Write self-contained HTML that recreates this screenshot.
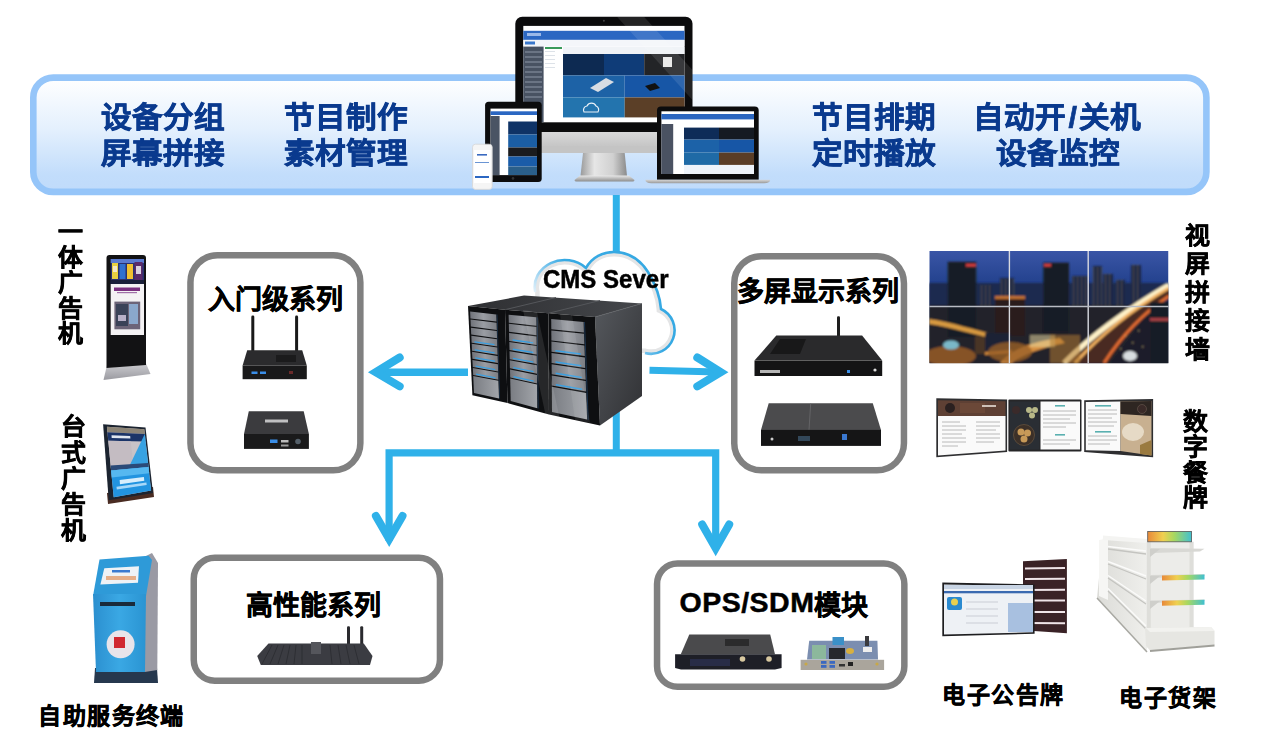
<!DOCTYPE html>
<html lang="zh-CN">
<head>
<meta charset="utf-8">
<style>
html,body{margin:0;padding:0;background:#fff;}
body{width:1268px;height:737px;position:relative;overflow:hidden;font-family:"Liberation Sans",sans-serif;}
.a{position:absolute;}
.bt{position:absolute;font-weight:bold;color:#0a3a8e;font-size:30.6px;line-height:38.3px;white-space:nowrap;-webkit-text-stroke:0.7px #0a3a8e;transform:scaleY(0.95);transform-origin:0 0;}
.bx{position:absolute;font-weight:bold;color:#000;font-size:27px;line-height:30px;white-space:nowrap;-webkit-text-stroke:0.5px #000;}
.vt{position:absolute;font-weight:bold;color:#000;font-size:23.5px;width:24px;text-align:center;white-space:normal;-webkit-text-stroke:0.5px #000;transform:scaleX(1.06);transform-origin:0 0;}
.lb{position:absolute;font-weight:bold;color:#000;font-size:23px;line-height:26px;white-space:nowrap;-webkit-text-stroke:0.5px #000;}
</style>
</head>
<body>
<!-- banner -->
<svg class="a" style="left:0;top:0" width="1268" height="737" viewBox="0 0 1268 737">
 <defs><linearGradient id="bang" x1="0" y1="0" x2="0" y2="1"><stop offset="0" stop-color="#ffffff"/><stop offset="0.45" stop-color="#e4f0fd"/><stop offset="0.85" stop-color="#c2ddfb"/><stop offset="1" stop-color="#c0dbfb"/></linearGradient></defs>
 <rect x="33.3" y="77.6" width="1173.1" height="114.3" rx="20" fill="url(#bang)" stroke="#95c5f9" stroke-width="6.6"/>
</svg>
<div class="bt" style="left:101px;top:99px;">设备分组<br>屏幕拼接</div>
<div class="bt" style="left:284px;top:99px;">节目制作<br>素材管理</div>
<div class="bt" style="left:812px;top:99px;">节目排期<br>定时播放</div>
<div class="bt" style="left:972.5px;top:99px;">自动开<span style="margin:0 2px 0 3px">/</span>关机</div>
<div class="bt" style="left:996px;top:135px;">设备监控</div>

<!-- connectors -->
<svg class="a" style="left:0;top:0" width="1268" height="737" viewBox="0 0 1268 737">
 <g stroke="#2fb1e9" fill="none">
  <line x1="616.3" y1="195" x2="616.3" y2="453" stroke-width="7"/>
  <polyline points="389.1,541 389.1,452.8 715.7,452.8 715.7,549" stroke-width="7.2" stroke-linejoin="miter"/>
  <polyline points="375.9,516 389.2,539 402.5,516" stroke-width="8" stroke-linecap="round" stroke-linejoin="miter" stroke-miterlimit="10"/>
  <polyline points="702.2,524.5 715.7,548.2 729.2,524.5" stroke-width="8" stroke-linecap="round" stroke-linejoin="miter" stroke-miterlimit="10"/>
  <line x1="468" y1="372.2" x2="378" y2="372.2" stroke-width="7.6"/>
  <polyline points="399.7,357.5 375.7,372.2 399.7,386.4" stroke-width="8" stroke-linecap="round" stroke-linejoin="miter" stroke-miterlimit="10"/>
  <line x1="649.5" y1="370.3" x2="718" y2="372.1" stroke-width="7"/>
  <polyline points="697.3,357.5 720.8,372.2 697.3,386.4" stroke-width="8" stroke-linecap="round" stroke-linejoin="miter" stroke-miterlimit="10"/>
 </g>
</svg>


<!-- monitor group -->
<svg class="a" style="left:0;top:0" width="1268" height="737" viewBox="0 0 1268 737">
 <defs>
  <linearGradient id="chin" x1="0" y1="0" x2="0" y2="1"><stop offset="0" stop-color="#d8d8d8"/><stop offset="1" stop-color="#bdbdbd"/></linearGradient>
  <linearGradient id="neck" x1="0" y1="0" x2="1" y2="0"><stop offset="0" stop-color="#9a9a9a"/><stop offset="0.3" stop-color="#e6e6e6"/><stop offset="0.7" stop-color="#d0d0d0"/><stop offset="1" stop-color="#8a8a8a"/></linearGradient>
  <linearGradient id="base" x1="0" y1="0" x2="0" y2="1"><stop offset="0" stop-color="#e8e8e8"/><stop offset="1" stop-color="#8c8c8c"/></linearGradient>
  <linearGradient id="lbase" x1="0" y1="0" x2="0" y2="1"><stop offset="0" stop-color="#d6d6d6"/><stop offset="1" stop-color="#9a9a9a"/></linearGradient>
 </defs>
 <!-- iMac -->
 <rect x="515.3" y="16.8" width="177.2" height="136" rx="7" fill="#0b0b0c"/>
 <rect x="515.3" y="132" width="177.2" height="21" fill="url(#chin)"/>
 <path d="M515.3 146 h177.2 v1 a6 6 0 0 1 -6 6 h-165.2 a6 6 0 0 1 -6 -6z" fill="#c4c4c4"/>
 <polygon points="583,153 624.7,153 627,176 580.5,176" fill="url(#neck)"/>
 <path d="M580 175.5 h49 l5.5 4.5 q0 1.5 -2 1.5 h-56 q-2 0 -2 -1.5z" fill="url(#base)"/>
 <circle cx="603.9" cy="20.8" r="1" fill="#444"/>
 <!-- screen -->
 <rect x="523.3" y="25.9" width="161.2" height="96.4" fill="#ffffff"/>
 <rect x="523.3" y="30.8" width="161.2" height="9" fill="#2b67c2"/>
 <rect x="523.3" y="40" width="161.2" height="6.6" fill="#f4f6fa"/>
 <rect x="525" y="41.5" width="10" height="3" fill="#3a78cc"/>
 <rect x="523.3" y="46.6" width="20.3" height="75.7" fill="#485262"/>
 <rect x="563" y="47" width="121.5" height="7" fill="#f0f3f7"/>
 <rect x="563" y="54" width="41" height="21.4" fill="#0d2a52"/>
 <rect x="604" y="54" width="40.2" height="21.4" fill="#0f3c78"/>
 <rect x="644.2" y="54" width="40.3" height="21.4" fill="#232427"/>
 <rect x="663" y="57" width="9" height="10" fill="#e8e8e8"/>
 <rect x="563" y="75.4" width="61.7" height="22" fill="#1d62a6"/>
 <rect x="624.7" y="75.4" width="59.8" height="22" fill="#1756a6"/>
 <rect x="563" y="97.4" width="61.7" height="20" fill="#2374ae"/>
 <rect x="624.7" y="97.4" width="59.8" height="20" fill="#5b3f27"/>
 <polygon points="590,88 606,78 614,82 598,92" fill="#d8dde3"/>
 <g fill="#6a7484"><rect x="525" y="51" width="17" height="2"/><rect x="525" y="56" width="17" height="2"/><rect x="525" y="61" width="17" height="2"/><rect x="525" y="66" width="17" height="2"/><rect x="525" y="71" width="17" height="2"/><rect x="525" y="76" width="17" height="2"/><rect x="525" y="81" width="17" height="2"/><rect x="525" y="86" width="17" height="2"/><rect x="525" y="91" width="17" height="2"/><rect x="525" y="96" width="17" height="2"/></g>
 <rect x="545" y="47" width="17" height="2" fill="#3a9a5a"/>
 <g fill="#dde2e8"><rect x="545" y="51" width="10" height="1"/><rect x="545" y="55" width="10" height="1"/><rect x="545" y="59" width="10" height="1"/><rect x="545" y="63" width="10" height="1"/><rect x="545" y="67" width="10" height="1"/></g>
 <path d="M584 112 a4 4 0 0 1 3 -6 a5 5 0 0 1 9 0 a4 4 0 0 1 2 6 z" fill="none" stroke="#e8f0f8" stroke-width="1.2"/>
 <rect x="527" y="33" width="14" height="3" fill="#9ab8e8"/>
 <polygon points="645,86 655,83 660,88 650,91" fill="#111"/>
 <polygon points="617,16.8 644,16.8 692.5,70 692.5,100" fill="#ffffff" opacity="0.1"/>
 <!-- tablet -->
 <rect x="485.1" y="101.8" width="56.6" height="80.1" rx="3.5" fill="#0c0c0d"/>
 <rect x="490.5" y="108.6" width="46.5" height="66.5" fill="#fff"/>
 <rect x="490.5" y="111.3" width="46.5" height="3.7" fill="#2b67c2"/>
 <rect x="490.5" y="116" width="9.1" height="59.1" fill="#4a5464"/>
 <rect x="508.2" y="121.5" width="28.8" height="13" fill="#0f3366"/>
 <rect x="508.2" y="134.5" width="28.8" height="13" fill="#1b5ea4"/>
 <rect x="508.2" y="147.5" width="28.8" height="9" fill="#1a1b1e"/>
 <rect x="508.2" y="156.5" width="28.8" height="10" fill="#1a5ca8"/>
 <rect x="508.2" y="166.5" width="28.8" height="8.5" fill="#2a5f8a"/>
 <circle cx="513" cy="178.4" r="1.3" fill="#333"/>
 <!-- phone -->
 <rect x="472.5" y="144.2" width="19.7" height="45.2" rx="3" fill="#f5f5f5" stroke="#d6d6d6" stroke-width="0.8"/>
 <rect x="474" y="150" width="16.7" height="33" fill="#ffffff"/>
 <rect x="477" y="154" width="10" height="1.6" fill="#3a6ac0"/>
 <rect x="475" y="162" width="14" height="0.9" fill="#5a8ad0"/>
 <rect x="475" y="176" width="14" height="2" fill="#2b67c2"/>
 <!-- laptop -->
 <path d="M661 106.5 h93.7 a4 4 0 0 1 4 4 v69.3 h-101.7 v-69.3 a4 4 0 0 1 4 -4z" fill="#0c0c0d"/>
 <rect x="661.4" y="111.3" width="92.6" height="62.7" fill="#fff"/>
 <rect x="661.4" y="114" width="92.6" height="5.4" fill="#2b66c0"/>
 <rect x="661.4" y="124" width="11.8" height="50" fill="#4a5262"/>
 <rect x="684" y="127.6" width="35" height="12" fill="#0e2c58"/>
 <rect x="719" y="127.6" width="35" height="12" fill="#151a22"/>
 <rect x="684" y="139.6" width="35" height="13" fill="#1c62a8"/>
 <rect x="719" y="139.6" width="35" height="13" fill="#1756a6"/>
 <rect x="684" y="152.6" width="35" height="12.3" fill="#1f6aa6"/>
 <rect x="719" y="152.6" width="35" height="12.3" fill="#5a3d26"/>
 <rect x="684" y="165" width="70" height="9" fill="#eef3fa"/>
 <path d="M645.4 179.8 h124.8 q0 3.4 -6 3.4 h-112.8 q-6 0 -6 -3.4z" fill="url(#lbase)"/>
</svg>


<!-- cloud + server -->
<svg class="a" style="left:0;top:0" width="1268" height="737" viewBox="0 0 1268 737">
 <defs>
  <linearGradient id="cstroke" gradientUnits="userSpaceOnUse" x1="536" y1="295" x2="566" y2="262"><stop offset="0" stop-color="#e6f2fa"/><stop offset="0.6" stop-color="#7cc6ee"/><stop offset="1" stop-color="#36a9e3"/></linearGradient>
  <clipPath id="cc"><path d="M535.2 292 A30 27 0 0 1 586 268 C 592 257, 603 252, 614 252 C 630 252, 641 261, 648 272 C 654 282, 660 295, 661 309 A23.5 23.5 0 0 1 645 353 L535 353 Z"/></clipPath>
  <linearGradient id="stop" x1="0" y1="0" x2="1" y2="0"><stop offset="0" stop-color="#2e2f32"/><stop offset="1" stop-color="#45474b"/></linearGradient>
  <linearGradient id="sside" x1="0" y1="0" x2="1" y2="1"><stop offset="0" stop-color="#55585d"/><stop offset="1" stop-color="#303134"/></linearGradient>
  <linearGradient id="spanel" x1="0" y1="0" x2="1" y2="0"><stop offset="0" stop-color="#70737a"/><stop offset="0.5" stop-color="#9a9da3"/><stop offset="1" stop-color="#7b7e84"/></linearGradient>
  <linearGradient id="spanel2" x1="0" y1="0" x2="1" y2="0"><stop offset="0" stop-color="#7a7d83"/><stop offset="1" stop-color="#a2a5aa"/></linearGradient>
 </defs>
 <path d="M535.2 292 A30 27 0 0 1 586 268 C 592 257, 603 252, 614 252 C 630 252, 641 261, 648 272 C 654 282, 660 295, 661 309 A23.5 23.5 0 0 1 645 353 L535 353 Z" fill="#fff"/>
 <path d="M535.2 292 A30 27 0 0 1 586 268 C 592 257, 603 252, 614 252 C 630 252, 641 261, 648 272 C 654 282, 660 295, 661 309 A23.5 23.5 0 0 1 645 353 L535 353 Z" fill="none" stroke="#e4e5e6" stroke-width="9" clip-path="url(#cc)"/>
 <path d="M535.2 292 A30 27 0 0 1 586 268 C 592 257, 603 252, 614 252 C 630 252, 641 261, 648 272 C 654 282, 660 295, 661 309 A23.5 23.5 0 0 1 645 353" fill="none" stroke="url(#cstroke)" stroke-width="2.6"/>
<polygon points="468.0,306.0 524.0,295.5 642.0,303.5 595.0,317.0 548.4,313.3 505.0,309.7" fill="url(#stop)"/>
<polygon points="595.0,317.0 642.0,303.5 642.0,396.0 600.0,425.5" fill="url(#sside)"/>
<line x1="505" y1="309.7" x2="556" y2="297.5" stroke="#55575b" stroke-width="1"/>
<line x1="548.4" y1="313.3" x2="600" y2="300.5" stroke="#55575b" stroke-width="1"/>
<line x1="595" y1="317" x2="642" y2="303.5" stroke="#606266" stroke-width="0.8"/>
<polygon points="468.0,306.0 505.0,309.7 507.5,403.0 472.4,395.3" fill="#0e0f11"/>
<polygon points="470.1,311.6 496.3,314.4 496.5,321.6 470.4,318.5" fill="url(#spanel)"/>
<polygon points="470.5,319.6 496.6,322.7 496.8,329.9 470.8,326.6" fill="url(#spanel)"/>
<polygon points="470.9,327.7 496.8,331.0 497.1,338.2 471.2,334.6" fill="url(#spanel)"/>
<polygon points="471.3,335.7 497.1,339.3 497.3,346.5 471.6,342.7" fill="url(#spanel)"/>
<polygon points="474.4,341.2 494.4,344.0 494.4,345.3 474.5,342.4" fill="#3a9fe0"/>
<polygon points="471.7,343.8 497.4,347.6 497.6,354.8 472.0,350.8" fill="url(#spanel)"/>
<polygon points="474.8,349.2 494.6,352.3 494.7,353.6 474.8,350.5" fill="#3a9fe0"/>
<polygon points="472.0,351.8 497.6,355.9 497.9,363.1 472.4,358.8" fill="url(#spanel)"/>
<polygon points="475.2,357.3 494.9,360.6 495.0,361.9 475.2,358.6" fill="#3a9fe0"/>
<polygon points="472.4,359.9 497.9,364.2 498.1,371.4 472.8,366.9" fill="url(#spanel)"/>
<polygon points="475.5,365.4 495.2,368.9 495.2,370.2 475.6,366.7" fill="#3a9fe0"/>
<polygon points="472.8,367.9 498.2,372.5 498.4,379.7 473.2,374.9" fill="url(#spanel)"/>
<polygon points="475.9,373.5 495.5,377.2 495.5,378.5 476.0,374.7" fill="#3a9fe0"/>
<polygon points="473.2,376.0 498.4,380.8 499.0,398.4 474.0,393.0" fill="url(#spanel2)"/>
<polygon points="496.7,314.4 497.4,314.5 500.0,398.6 499.3,398.5" fill="#1d3550"/>
<polygon points="505.0,309.7 548.4,313.3 549.0,414.5 507.5,403.0" fill="#0e0f11"/>
<polygon points="508.6,314.7 536.3,317.2 536.4,325.7 508.8,322.7" fill="url(#spanel)"/>
<polygon points="508.8,323.8 536.4,326.9 536.5,335.3 509.0,331.8" fill="url(#spanel)"/>
<polygon points="509.0,332.9 536.5,336.5 536.6,344.9 509.2,340.9" fill="url(#spanel)"/>
<polygon points="512.6,339.3 533.2,342.2 533.2,343.6 512.6,340.7" fill="#3a9fe0"/>
<polygon points="509.3,342.1 536.6,346.1 536.7,354.5 509.5,350.1" fill="url(#spanel)"/>
<polygon points="512.8,348.5 533.3,351.8 533.3,353.2 512.9,349.9" fill="#3a9fe0"/>
<polygon points="509.5,351.2 536.7,355.7 536.8,364.1 509.7,359.2" fill="url(#spanel)"/>
<polygon points="513.0,357.7 533.4,361.4 533.4,362.7 513.1,359.0" fill="#3a9fe0"/>
<polygon points="509.7,360.3 536.9,365.3 537.0,373.7 509.9,368.3" fill="url(#spanel)"/>
<polygon points="513.3,366.9 533.5,370.9 533.6,372.3 513.3,368.2" fill="#3a9fe0"/>
<polygon points="510.0,369.4 537.0,374.9 537.1,383.4 510.2,377.4" fill="url(#spanel)"/>
<polygon points="513.5,376.1 533.7,380.5 533.7,381.8 513.5,377.4" fill="#3a9fe0"/>
<polygon points="510.2,378.6 537.1,384.6 537.3,408.3 510.7,401.1" fill="url(#spanel2)"/>
<polygon points="536.7,317.3 537.6,317.4 538.6,408.6 537.8,408.4" fill="#1d3550"/>
<polygon points="548.4,313.3 595.0,317.0 600.0,425.5 549.0,414.5" fill="#0e0f11"/>
<polygon points="551.2,319.1 583.6,321.9 583.9,332.5 551.3,329.2" fill="url(#spanel)"/>
<polygon points="551.3,330.4 584.0,333.8 584.4,344.3 551.4,340.4" fill="url(#spanel)"/>
<polygon points="551.4,341.6 584.4,345.6 584.8,356.1 551.5,351.7" fill="url(#spanel)"/>
<polygon points="555.4,350.0 580.9,353.3 580.9,354.8 555.4,351.4" fill="#3a9fe0"/>
<polygon points="551.5,352.9 584.9,357.4 585.2,368.0 551.6,363.0" fill="url(#spanel)"/>
<polygon points="555.5,361.3 581.3,365.0 581.3,366.5 555.5,362.7" fill="#3a9fe0"/>
<polygon points="551.6,364.2 585.3,369.2 585.7,379.8 551.7,374.2" fill="url(#spanel)"/>
<polygon points="555.6,372.6 581.7,376.8 581.7,378.3 555.6,374.0" fill="#3a9fe0"/>
<polygon points="551.7,375.4 585.7,381.1 586.1,391.6 551.8,385.5" fill="url(#spanel)"/>
<polygon points="555.8,383.9 582.1,388.6 582.1,390.0 555.8,385.4" fill="#3a9fe0"/>
<polygon points="551.8,386.7 586.2,392.9 587.1,419.5 552.0,412.1" fill="url(#spanel2)"/>
<polygon points="584.0,322.0 585.0,322.1 588.7,419.9 587.6,419.7" fill="#1d3550"/>
<polygon points="523,310 537,312 560,420 546,417" fill="#ffffff" opacity="0.10"/>
<polygon points="560,314 572,315 590,423 575,420" fill="#ffffff" opacity="0.08"/>

</svg>

<!-- boxes -->
<svg class="a" style="left:0;top:0" width="1268" height="737" viewBox="0 0 1268 737">
 <g fill="#fff" stroke="#808080" stroke-width="6.5">
  <rect x="190.45" y="255.25" width="169.9" height="215.1" rx="27"/>
  <rect x="734.25" y="256.15" width="169.7" height="214.2" rx="27"/>
  <rect x="193.75" y="557.75" width="246.2" height="122.9" rx="21"/>
  <rect x="657.05" y="563.45" width="247.3" height="123.3" rx="20.5"/>
 </g>
</svg>

<div class="bx" style="left:208px;top:285px;">入门级系列</div>
<div class="bx" style="left:736.5px;top:276.5px;">多屏显示系列</div>
<div class="bx" style="left:245.5px;top:590.5px;">高性能系列</div>
<div class="bx" style="left:679.5px;top:589.5px;"><span style="letter-spacing:0.5px;font-size:28.5px;position:relative;top:-2.5px;">OPS/SDM</span>模块</div>

<!-- products -->
<svg class="a" style="left:0;top:0" width="1268" height="737" viewBox="0 0 1268 737">
 <defs>
  <linearGradient id="sky" x1="0" y1="0" x2="0.3" y2="1"><stop offset="0" stop-color="#3b56a6"/><stop offset="0.45" stop-color="#1c3d86"/><stop offset="1" stop-color="#102a5e"/></linearGradient>
  <linearGradient id="city" x1="0" y1="0" x2="0" y2="1"><stop offset="0" stop-color="#1d2a44"/><stop offset="0.5" stop-color="#4a3320"/><stop offset="1" stop-color="#8a5a22"/></linearGradient>
  <linearGradient id="road" x1="1" y1="0" x2="0" y2="1"><stop offset="0" stop-color="#ffe8b0"/><stop offset="1" stop-color="#f09030"/></linearGradient>
  <linearGradient id="led" x1="0" y1="0" x2="1" y2="0"><stop offset="0" stop-color="#e88a3a"/><stop offset="0.35" stop-color="#f0d050"/><stop offset="0.6" stop-color="#a8d860"/><stop offset="1" stop-color="#40c0d0"/></linearGradient>
  <linearGradient id="shelfside" x1="0" y1="0" x2="1" y2="0"><stop offset="0" stop-color="#dcdcd8"/><stop offset="1" stop-color="#efefec"/></linearGradient>
  <linearGradient id="kbase" x1="0" y1="0" x2="0" y2="1"><stop offset="0" stop-color="#d4d4d8"/><stop offset="1" stop-color="#9a9aa0"/></linearGradient>
  <linearGradient id="tscr" x1="0" y1="0" x2="0" y2="1"><stop offset="0" stop-color="#8c8478"/><stop offset="0.1" stop-color="#1b3566"/><stop offset="0.2" stop-color="#c9c3c6"/><stop offset="0.5" stop-color="#b8b4bc"/><stop offset="0.6" stop-color="#3aa4e4"/><stop offset="1" stop-color="#1878d0"/></linearGradient>
  <linearGradient id="kblue" x1="0" y1="0" x2="1" y2="0"><stop offset="0" stop-color="#2b8fcf"/><stop offset="0.5" stop-color="#3aa8e4"/><stop offset="1" stop-color="#2a94d2"/></linearGradient>
  <filter id="bl1"><feGaussianBlur stdDeviation="1.2"/></filter>
  <filter id="bl05"><feGaussianBlur stdDeviation="0.6"/></filter>
  <filter id="bl08" x="-5%" y="-5%" width="110%" height="110%"><feGaussianBlur stdDeviation="0.9"/></filter>
 </defs>

 <!-- ===== left column ===== -->
 <!-- floor kiosk -->
 <polygon points="107,365 145,361 150.5,374 103.5,380" fill="url(#kbase)"/>
 <polygon points="107,365 145,361 146,364 106,368" fill="#e8e8ec"/>
 <path d="M106.5 258 q0 -3 3 -3 h33.5 q3 0 3 3 v107 l-39.5 3z" fill="#121214"/>
 <rect x="110.7" y="259" width="33.3" height="25" fill="#2a3170"/>
 <rect x="110.7" y="259" width="33.3" height="4" fill="#5a7ad0"/>
 <rect x="112" y="263" width="6" height="16" fill="#e8d040"/>
 <rect x="113" y="266" width="4" height="6" fill="#f4e8c8"/>
 <rect x="119.5" y="264" width="6" height="15" fill="#3070d0"/>
 <rect x="127" y="264" width="6" height="15" fill="#f0c030"/>
 <rect x="134.5" y="262" width="8" height="20" fill="#5a2a6a"/>
 <rect x="136" y="266" width="5" height="8" fill="#d8d0e0"/>
 <rect x="110.7" y="280" width="33.3" height="4" fill="#1a1f3a"/>
 <rect x="110.7" y="284" width="33.3" height="51" fill="#f4f2f4"/>
 <rect x="114" y="287.5" width="26" height="3.5" fill="#7a3080"/>
 <rect x="117" y="292" width="20" height="1.2" fill="#a070a8"/>
 <rect x="114.4" y="301.6" width="25.8" height="27.7" fill="#6c6478"/>
 <rect x="116" y="304" width="12" height="22" fill="#3a4258"/>
 <rect x="129" y="304" width="9" height="20" fill="#8aa8cc"/>
 <rect x="118" y="315" width="8" height="6" fill="#b8b0c8"/>
 <!-- table ad machine -->
 <polygon points="107,493 153,487 154,497 108,504" fill="#4a2c22"/>
 <polygon points="103.1,424.2 145.5,427.4 153,492.9 108.7,500.3" fill="#1c2430"/>
 <polygon points="106.9,426.7 144.3,429.2 151.1,490.4 113.7,497.2" fill="#c9c3c7"/>
 <polygon points="106.9,426.7 144.3,429.2 144.8,434.1 107.4,432.3" fill="#8c8476"/>
 <polygon points="107.4,432.3 144.8,434.1 145.7,441.4 108.3,440.8" fill="#1b3468"/>
 <polygon points="111.5,435.3 130.2,436.0 130.4,438.6 111.7,438.1" fill="#dfe6f0"/>
 <polygon points="108.3,440.8 130.7,441.2 133.6,468.5 111.1,470.4" fill="#c4bcc2"/>
 <polygon points="144.8,434.1 148.5,467.1 127.9,468.9" fill="#38a2e2"/>
 <polygon points="110.6,465.5 148.0,462.9 148.5,467.1 111.1,470.4" fill="#2a4a78"/>
 <polygon points="111.1,470.4 148.5,467.1 151.1,490.4 113.7,497.2" fill="#2294e0"/>
 <polygon points="111.1,470.4 148.5,467.1 149.2,473.3 111.8,477.5" fill="#56b8f0"/>
 <polygon points="119.6,480.1 143.9,477.0 144.3,480.8 120.0,484.2" fill="#d8eefc"/>
 <polygon points="116.5,486.8 146.4,482.4 146.7,484.9 116.8,489.6" fill="#a8d8f8"/>

 <!-- self-service kiosk -->
 <polygon points="95,668 157,668 158,683 94,683" fill="#26384e"/>
 <polygon points="144,557 152,553 158,563 157.3,670 144.7,672" fill="#9a9aa4"/>
 <polygon points="99.5,559.6 148.6,555.7 152,560 146,596 93,596" fill="#2e9ad8"/>
 <polygon points="104.3,568.2 139,566.3 138,582.7 100.4,584.6" fill="#eef2f6"/>
 <rect x="106" y="576" width="30" height="4" fill="#e08040" opacity="0.6"/>
 <rect x="112" y="570" width="18" height="2.5" fill="#3a7ad0"/>
 <polygon points="93,594 146,594 145,672 96,672" fill="url(#kblue)"/>
 <rect x="100" y="602" width="35" height="4" fill="#1a2a3a"/>
 <circle cx="120.6" cy="644.3" r="14" fill="#e8e4ea"/>
 <rect x="114" y="637" width="11" height="11" fill="#d02830"/>

 <!-- ===== box devices ===== -->
 <!-- entry router -->
 <rect x="251.3" y="315.6" width="3" height="36" rx="1.3" fill="#1a1a1a"/>
 <rect x="295.1" y="315.6" width="3" height="36" rx="1.3" fill="#1a1a1a"/>
 <polygon points="247.2,350.2 302.2,350.2 306.8,365.5 242.6,365.5" fill="#2b2b2d"/>
 <rect x="242.6" y="365.5" width="64.2" height="13.7" fill="#19191a"/>
 <rect x="276" y="355" width="20" height="7" fill="#111" opacity="0.6"/>
 <rect x="251.5" y="371.5" width="6" height="2.5" fill="#3a8ee8"/>
 <rect x="260" y="371.5" width="6" height="2.5" fill="#3a8ee8"/>
 <rect x="289" y="371" width="4" height="3" fill="#6a2a2a"/>
 <!-- entry box -->
 <polygon points="248.8,411.2 303.7,411.2 308.9,434 244,434" fill="#3b3b3e"/>
 <rect x="244" y="434" width="64.9" height="14.9" fill="#1a1a1b"/>
 <rect x="265" y="419.5" width="23" height="3" fill="#d8d8d8" opacity="0.85"/>
 <rect x="270" y="439.5" width="7.5" height="3.5" fill="#3a8ee8"/>
 <rect x="281" y="440" width="7.5" height="2.5" fill="#bbb"/>
 <rect x="281" y="444.5" width="7.5" height="2" fill="#999"/>
 <circle cx="298" cy="441.5" r="2.8" fill="#55606a"/>

 <!-- multi-screen device 1 -->
 <rect x="837" y="316.2" width="3" height="22" rx="1.2" fill="#1e1e1e"/>
 <polygon points="776.3,335.5 862.1,335.5 882.2,360.6 754.5,360.6" fill="#2a2a2c"/>
 <polygon points="780,339 806,339 800,354 770,354" fill="#111" opacity="0.7"/>
 <rect x="754.5" y="360.6" width="127.7" height="15.4" fill="#141415"/>
 <rect x="760" y="370" width="20" height="3" fill="#ddd" opacity="0.8"/>
 <rect x="847" y="370" width="3" height="3" fill="#3a8ee8"/>
 <circle cx="875" cy="370" r="1.6" fill="#ddd"/>
 <!-- multi-screen device 2 -->
 <polygon points="768.7,403.3 872.8,403.3 881,429.9 761,429.9" fill="#4b4b4d"/>
 <line x1="810.7" y1="403.3" x2="809" y2="429.9" stroke="#6a6a6c" stroke-width="0.8"/>
 <rect x="761" y="429.9" width="120" height="16" fill="#151516"/>
 <rect x="798" y="436" width="12" height="5" fill="#33485a"/>
 <rect x="842" y="434" width="5" height="6" fill="#3a78d0"/>
 <circle cx="772" cy="439" r="1.5" fill="#ccc"/>

 <!-- high performance -->
 <rect x="347" y="626.2" width="3" height="20" rx="1.2" fill="#2a2a2e"/>
 <rect x="360.2" y="626.2" width="3" height="20" rx="1.2" fill="#2a2a2e"/>
 <polygon points="268.5,643.6 363.8,643.6 372.5,655.9 370,665.1 260.8,665.1 257.2,655.9" fill="#3b3c42"/>
 <rect x="311" y="642" width="10" height="12" fill="#55565c"/>
 <g stroke="#2a2b30" stroke-width="0.8">
  <line x1="272" y1="645" x2="262" y2="664"/><line x1="278" y1="645" x2="270" y2="664"/><line x1="284" y1="645" x2="278" y2="664"/><line x1="290" y1="645" x2="286" y2="664"/><line x1="296" y1="645" x2="294" y2="664"/><line x1="302" y1="645" x2="302" y2="664"/>
  <line x1="330" y1="645" x2="332" y2="664"/><line x1="338" y1="645" x2="341" y2="664"/><line x1="346" y1="645" x2="350" y2="664"/><line x1="354" y1="645" x2="359" y2="664"/>
 </g>

 <!-- OPS -->
 <polygon points="689.3,634.5 770.2,634.5 775,654.3 680.8,654.3" fill="#4a4a4c"/>
 <rect x="725" y="639" width="24" height="7" fill="#222" opacity="0.75"/>
 <polygon points="675.1,654.3 781.6,654.3 781.6,668 775,669.5 681,669.5 675.1,668" fill="#1e1f27"/>
 <rect x="690" y="659" width="40" height="7" fill="#2a3050" opacity="0.8"/>
 <circle cx="742.5" cy="659" r="2.8" fill="#d8c8a0"/>
 <circle cx="769" cy="659" r="2.8" fill="#d8c8a0"/>
 <!-- board -->
 <polygon points="809.2,640.7 877.4,640.7 878,659.5 807,659.5" fill="#7b8eb0"/>
 <rect x="812" y="645" width="14" height="14" fill="#8cb89c"/>
 <rect x="829" y="648" width="16" height="11" fill="#26282c"/>
 <rect x="832.5" y="637" width="11.5" height="8" fill="#3a90c8"/>
 <ellipse cx="850" cy="651" rx="4" ry="3" fill="#d8b040"/>
 <rect x="863" y="647" width="9" height="5" fill="#eee"/>
 <rect x="865" y="636" width="4" height="10" fill="#3a3a3e"/>
 <rect x="800.6" y="659.8" width="83.5" height="10.2" fill="#aaa59c"/>
 <rect x="821" y="661" width="5.5" height="2.8" fill="#3a68c0"/><rect x="821" y="665" width="5.5" height="2.8" fill="#3a68c0"/>
 <rect x="829.5" y="661" width="5.5" height="2.8" fill="#3a68c0"/><rect x="829.5" y="665" width="5.5" height="2.8" fill="#3a68c0"/>
 <rect x="839" y="664" width="6" height="2.5" fill="#333"/>
 <rect x="848" y="662" width="5" height="4" fill="#222"/>
 <circle cx="806" cy="664" r="1.6" fill="#c8a848"/><circle cx="877" cy="664" r="1.6" fill="#c8a848"/>

 <!-- ===== right column ===== -->
 <!-- video wall -->
 <defs>
  <linearGradient id="sky2" x1="0" y1="0" x2="0" y2="1"><stop offset="0" stop-color="#3a55a6"/><stop offset="0.3" stop-color="#22418c"/><stop offset="0.55" stop-color="#1c3464"/><stop offset="1" stop-color="#1a1e2c"/></linearGradient>
  <pattern id="win" width="3" height="3" patternUnits="userSpaceOnUse"><rect width="3" height="3" fill="#0d1322"/><rect x="0.5" y="0.5" width="1.2" height="1" fill="#8a7a50" opacity="0.55"/></pattern>
  <pattern id="win2" width="4" height="3" patternUnits="userSpaceOnUse"><rect width="4" height="3" fill="#1a2644"/><rect x="1" y="1" width="1.2" height="1" fill="#c8b070" opacity="0.5"/></pattern>
  <clipPath id="vwclip"><rect x="929.3" y="250.9" width="239.2" height="112.4"/></clipPath>
 </defs>
 <g clip-path="url(#vwclip)">
  <rect x="929.3" y="250.9" width="239.2" height="112.4" fill="url(#sky2)"/>
  <g filter="url(#bl08)">
   <rect x="929" y="283" width="240" height="25" fill="#1e2c50"/>
   <rect x="980" y="285" width="12" height="28" fill="url(#win2)"/>
   <rect x="1000" y="278" width="14" height="30" fill="url(#win2)"/>
   <rect x="1072" y="276" width="16" height="34" fill="url(#win2)"/>
   <rect x="1093" y="266" width="9" height="44" fill="url(#win2)"/>
   <rect x="1103" y="274" width="10" height="36" fill="url(#win2)"/>
   <rect x="1116" y="280" width="9" height="30" fill="url(#win2)"/>
   <rect x="1131" y="265" width="10" height="45" fill="url(#win2)"/>
   <rect x="929" y="305" width="240" height="60" fill="#20202a"/>
   <rect x="947.7" y="261.8" width="28.6" height="75" fill="url(#win)"/>
   <rect x="1043.3" y="262.7" width="25.7" height="70" fill="url(#win)"/>
   <rect x="966" y="264" width="10" height="2.5" fill="#e04040"/>
   <rect x="1044" y="264" width="7" height="2.5" fill="#e04040"/>
   <rect x="995" y="296" width="30" height="40" fill="#2a1c1c"/>
   <rect x="995" y="296" width="30" height="3" fill="#c07030"/>
   <ellipse cx="950" cy="356" rx="26" ry="10" fill="#a06028" opacity="0.8"/>
   <ellipse cx="951" cy="345" rx="8" ry="4.5" fill="#7ab8c8"/>
   <rect x="975" y="336" width="30" height="18" fill="#4a3428"/>
   <path d="M929 319 C 950 322, 975 330, 1000 336 L 1000 340 C 975 335, 950 327, 929 324 Z" fill="#d89a40"/>
   <path d="M985 333 L 1010 333 L 1012 350 L 985 352 Z" fill="#1a2236"/>
   <path d="M985 352 L 1012 350 L 1012 353 L 985 355 Z" fill="#d08838"/>
   <path d="M1000 363 C 1010 350, 1030 342, 1060 338 L 1065 343 C 1040 348, 1020 356, 1012 363 Z" fill="#d89040"/>
   <rect x="1030" y="335" width="25" height="12" fill="#e8d8a0" opacity="0.55"/>
   <ellipse cx="1010" cy="352" rx="22" ry="10" fill="#9a6028" opacity="0.8"/>
   <path d="M1170 283 C 1140 300, 1100 325, 1060 363 L 1108 363 C 1125 335, 1145 312, 1170 297 Z" fill="#4a2c22"/>
   <path d="M1169 285 C 1140 302, 1100 327, 1064 363" fill="none" stroke="#fff2c8" stroke-width="5"/>
   <path d="M1169 288 C 1140 305, 1105 330, 1075 363" fill="none" stroke="#f0b060" stroke-width="3"/>
   <path d="M1169 296 C 1145 312, 1122 335, 1104 363" fill="none" stroke="#e06a30" stroke-width="3"/>
   <rect x="1050" y="335" width="30" height="28" fill="#b07a30" opacity="0.55"/>
   
   
   <rect x="1150" y="302" width="19" height="62" fill="url(#win)"/>
   <rect x="1150" y="318" width="19" height="3" fill="#e05050" opacity="0.7"/>
   <path d="M1111 363 L 1147 316 L 1150 316 L 1150 363 Z" fill="#1c1e2c" opacity="0.9"/>
   <ellipse cx="1130" cy="356" rx="7" ry="5" fill="#d8dde0"/>
   <g fill="#d8c070" opacity="0.6"><rect x="1125" y="335" width="1.5" height="1.5"/><rect x="1132" y="342" width="1.5" height="1.5"/><rect x="1138" y="330" width="1.5" height="1.5"/><rect x="1142" y="346" width="1.5" height="1.5"/><rect x="1120" y="348" width="1.5" height="1.5"/></g>
  </g>
 </g>
 <line x1="1009.4" y1="250.9" x2="1009.4" y2="363.3" stroke="#d8dae0" stroke-width="1.4"/>
 <line x1="1088.2" y1="250.9" x2="1088.2" y2="363.3" stroke="#d8dae0" stroke-width="1.4"/>
 <line x1="929.3" y1="306.5" x2="1168.5" y2="306.5" stroke="#b8bcc4" stroke-width="1.4"/>

 <!-- menu boards -->
 <polygon points="936.3,398.3 1007.1,399.6 1007.1,451.9 936.3,457.3" fill="#2e2e30"/>
 <polygon points="938,400.3 1005.5,401.3 1005.5,416 938,416" fill="#5e4034"/>
 <rect x="960" y="403" width="25" height="10" fill="#6e4a3a" opacity="0.8"/>
 <rect x="982" y="405" width="14" height="2" fill="#e8e0d8" opacity="0.8"/>
 <circle cx="950" cy="408" r="5" fill="#2a2020"/>
 <polygon points="938,416 1005.5,416 1005.5,450.5 938,455.5" fill="#fafafa"/>
 <g stroke="#a8a8a8" stroke-width="0.8"><line x1="942" y1="422" x2="960" y2="422"/><line x1="942" y1="426" x2="966" y2="426"/><line x1="942" y1="430" x2="966" y2="430"/><line x1="942" y1="434" x2="962" y2="434"/><line x1="942" y1="438" x2="966" y2="438"/><line x1="942" y1="442" x2="966" y2="442"/><line x1="942" y1="446" x2="958" y2="446"/><line x1="976" y1="422" x2="1000" y2="422"/><line x1="976" y1="426" x2="1000" y2="426"/><line x1="976" y1="430" x2="996" y2="430"/><line x1="976" y1="434" x2="1000" y2="434"/><line x1="976" y1="438" x2="1000" y2="438"/><line x1="976" y1="442" x2="994" y2="442"/></g>
 <rect x="1008.4" y="399.6" width="73.1" height="51.9" rx="1" fill="#262628"/>
 <rect x="1010" y="401.5" width="29.5" height="48" fill="#2a2e34"/>
 <circle cx="1016" cy="410" r="4" fill="#3a2a2a"/>
 <circle cx="1024" cy="435" r="10.5" fill="#3c3028" stroke="#5a4a3a" stroke-width="1"/>
 <circle cx="1021" cy="432" r="3.5" fill="#c89a58"/><circle cx="1027.5" cy="433" r="3.5" fill="#c89a58"/><circle cx="1024" cy="439" r="3.5" fill="#c89a58"/>
 <circle cx="1029" cy="410" r="3" fill="#b8b888"/><circle cx="1035" cy="410" r="3" fill="#b8b888"/><circle cx="1032" cy="415.5" r="3" fill="#b8b888"/>
 <rect x="1040.5" y="401.5" width="39.5" height="48" fill="#fafafa"/>
 <rect x="1055" y="405" width="10" height="1.6" fill="#5ab0b0"/>
 <rect x="1055" y="434" width="10" height="1.6" fill="#5ab0b0"/>
 <g stroke="#a8a8a8" stroke-width="0.8"><line x1="1043" y1="411" x2="1076" y2="411"/><line x1="1043" y1="415" x2="1076" y2="415"/><line x1="1043" y1="419" x2="1070" y2="419"/><line x1="1043" y1="423" x2="1076" y2="423"/><line x1="1043" y1="427" x2="1066" y2="427"/><line x1="1043" y1="440" x2="1076" y2="440"/><line x1="1043" y1="444" x2="1070" y2="444"/></g>
 <polygon points="1084.2,400.2 1153.1,398.9 1153.1,457.3 1084.2,451.9" fill="#2e2e30"/>
 <polygon points="1085.8,402 1120.5,401.5 1120.5,451 1085.8,450.3" fill="#fafafa"/>
 <polygon points="1120.5,401.5 1151.5,401 1151.5,455.5 1120.5,451" fill="#c8b090"/>
 <polygon points="1120.5,401.5 1151.5,401 1151.5,416 1120.5,414" fill="#2e2622"/>
 <circle cx="1142" cy="409" r="4.5" fill="#3a2a28" stroke="#6a5a50" stroke-width="0.6"/>
 <ellipse cx="1133" cy="432" rx="11" ry="9" fill="#e6dac6"/>
 <polygon points="1140,445 1151.5,440 1151.5,455.5 1140,454" fill="#9a7a40"/>
 <rect x="1095" y="405" width="16" height="1.6" fill="#5ab0b0"/>
 <rect x="1095" y="431" width="16" height="1.6" fill="#5ab0b0"/>
 <g stroke="#a8a8a8" stroke-width="0.8"><line x1="1088" y1="410" x2="1117" y2="410"/><line x1="1088" y1="414" x2="1117" y2="414"/><line x1="1088" y1="418" x2="1112" y2="418"/><line x1="1088" y1="422" x2="1117" y2="422"/><line x1="1088" y1="426" x2="1114" y2="426"/><line x1="1088" y1="436" x2="1117" y2="436"/><line x1="1088" y1="440" x2="1117" y2="440"/><line x1="1088" y1="444" x2="1110" y2="444"/></g>

 <!-- bulletin -->
 <polygon points="1023,561.2 1066.9,559.1 1066.9,633.2 1023,630.2" fill="#3a2226"/>
 <g stroke="#efe4e8" stroke-width="2"><line x1="1025" y1="568.5" x2="1065" y2="568"/><line x1="1025" y1="579.1" x2="1065" y2="578.8"/><line x1="1025" y1="589.9" x2="1065" y2="589.7"/><line x1="1025" y1="600.6" x2="1065" y2="600.6"/><line x1="1025" y1="611.9" x2="1065" y2="612"/><line x1="1025" y1="622.9" x2="1065" y2="623.2"/></g>
 <polygon points="942.3,582.5 1034.6,584.4 1034.6,633.8 942.3,636.3" fill="#1e1e20"/>
 <polygon points="944,584.5 1033,586 1033,632.3 944,634.5" fill="#eef1f5"/>
 <rect x="944" y="585" width="89" height="4" fill="#c8d4e4"/>
 <rect x="944" y="591" width="89" height="2.3" fill="#3a6ab0"/>
 <rect x="947" y="597" width="15" height="13" rx="2" fill="#2a8ad0"/>
 <circle cx="954.5" cy="602" r="3.5" fill="#e8d050"/>
 <rect x="1008" y="603" width="25" height="29" fill="#a8c0e0"/>
 <g stroke="#d0d4da" stroke-width="1.2"><line x1="966" y1="602" x2="998" y2="602"/><line x1="966" y1="609" x2="998" y2="609"/><line x1="966" y1="616" x2="998" y2="616"/><line x1="966" y1="623" x2="998" y2="623"/></g>

 <!-- shelf -->
 <polygon points="1103,537.8 1147,541.5 1147,652 1097,598" fill="url(#shelfside)"/>
 <polygon points="1099,540 1108,538.5 1108,600 1099,596" fill="#f6f6f4"/>
 <g stroke="#c4c4c0" stroke-width="1.3">
  <line x1="1108" y1="549" x2="1146" y2="554"/>
  <line x1="1108" y1="564" x2="1146" y2="579"/>
  <line x1="1108" y1="578" x2="1146" y2="604"/>
  <line x1="1108" y1="591" x2="1146" y2="629"/>
 </g>
 <g stroke="#fbfbfa" stroke-width="1.5">
  <line x1="1108" y1="546.5" x2="1146" y2="551"/>
  <line x1="1108" y1="561.5" x2="1146" y2="576"/>
  <line x1="1108" y1="575.5" x2="1146" y2="601"/>
  <line x1="1108" y1="588.5" x2="1146" y2="626"/>
 </g>
 <polygon points="1103,535.5 1147,539 1147,543 1103,540" fill="#f4f4f2"/>
 <line x1="1097" y1="598" x2="1147" y2="652" stroke="#a8a8a2" stroke-width="1.5"/>
 <rect x="1146.8" y="541.8" width="46.7" height="100.4" fill="#ecece9"/>
 <rect x="1146.8" y="541.8" width="4" height="100.4" fill="#dededa"/>
 <rect x="1189.5" y="541.8" width="4" height="100.4" fill="#dededa"/>
 <polygon points="1150,548 1204.5,548.8 1200,551.5 1152,553" fill="#d8d8d4"/>
 <polygon points="1150,549 1160,549 1150,557" fill="#cfcfcb"/>
 <polygon points="1150,575 1204.5,574.2 1204.5,576 1152,578" fill="#d8d8d4"/>
 <polygon points="1150,576 1160,576 1150,584" fill="#cfcfcb"/>
 <polygon points="1150,600.5 1204.5,599.5 1204.5,601 1152,603" fill="#d8d8d4"/>
 <polygon points="1150,601 1160,601 1150,609" fill="#cfcfcb"/>
 <polygon points="1162,575.5 1204.5,574.5 1204.5,579.5 1162,580.5" fill="url(#led)"/>
 <polygon points="1162,600.8 1204.5,599.8 1204.5,604.8 1162,605.8" fill="url(#led)"/>
 <polygon points="1145,628 1211,627 1214.5,631 1214.5,645 1150,650.5 1146,646" fill="#e6e6e2"/>
 <polygon points="1146,628 1211,627 1214.5,631 1150,632" fill="#f2f2ef"/>
 <line x1="1150" y1="651" x2="1214.5" y2="645.5" stroke="#a0a09a" stroke-width="2"/>
 <rect x="1147.7" y="531.4" width="43.9" height="10.4" fill="url(#led)" stroke="#555" stroke-width="0.8"/>
</svg>

<!-- CMS -->
<div class="a" style="left:542.5px;top:263.5px;font-weight:bold;font-size:26.4px;color:#000;white-space:nowrap;transform:scaleX(0.91);-webkit-text-stroke:0.5px #000;transform-origin:0 0;">CMS Sever</div>

<!-- vertical labels -->
<div class="vt" style="left:57px;top:220px;line-height:25.6px;">一体广告机</div>
<div class="vt" style="left:59.5px;top:413.5px;line-height:26.1px;">台式广告机</div>
<div class="vt" style="left:1184px;top:221.5px;line-height:28.6px;">视屏拼接墙</div>
<div class="vt" style="left:1182px;top:409.5px;line-height:25.5px;">数字餐牌</div>
<div class="lb" style="left:38.4px;top:702.5px;letter-spacing:1.4px;">自助服务终端</div>
<div class="lb" style="left:942px;top:682px;letter-spacing:1.5px;">电子公告牌</div>
<div class="lb" style="left:1119px;top:685px;letter-spacing:1.5px;">电子货架</div>

</body>
</html>
